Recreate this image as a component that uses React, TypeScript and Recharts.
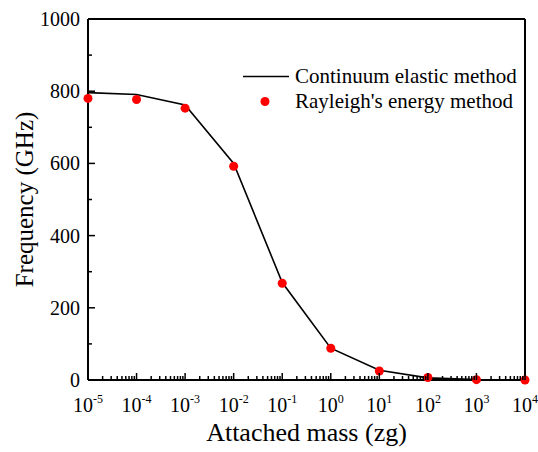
import React from "react";
import {
  ComposedChart,
  Line,
  XAxis,
  YAxis,
  Legend,
  Label,
  ReferenceLine,
} from "recharts";

// attached mass in zg (log axis), one point per decade
const masses = [1e-5, 1e-4, 1e-3, 1e-2, 1e-1, 1e0, 1e1, 1e2, 1e3, 1e4];
// frequency in GHz
const continuumValues = [796, 791, 762, 600, 270, 88, 27, 6, 1, 0];
const rayleighValues = [780, 777, 753, 592, 268, 88, 25, 7, 1, 0];

const xDecades = [-5, -4, -3, -2, -1, 0, 1, 2, 3, 4];
const yTicks = [0, 100, 200, 300, 400, 500, 600, 700, 800, 900, 1000];

const FONT = "Liberation Serif";

const data = masses.map((m, i) => ({
  mass: m,
  continuum: continuumValues[i],
  rayleigh: rayleighValues[i],
}));

// majors at each decade, minors at 2..9
const xTicks: number[] = [];
xDecades.forEach((d, i) => {
  if (i === xDecades.length - 1) {
    xTicks.push(Math.pow(10, d));
    return;
  }
  for (let k = 1; k <= 9; k++) xTicks.push(k * Math.pow(10, d));
});

function isDecade(v: number) {
  const l = Math.log10(v);
  return Math.abs(l - Math.round(l)) < 1e-9;
}

function XTick({ x, y, payload }: any) {
  const v = payload.value;
  const major = isDecade(v);
  const exp = Math.round(Math.log10(v));
  return (
    <g>
      <line x1={x} x2={x} y1={y} y2={y - (major ? 7 : 4)} stroke="#000" strokeWidth={1.5} />
      {major && (
        <text x={x} y={y + 32} textAnchor="middle" style={{ fontFamily: FONT, fontSize: 20 }} fill="#000">
          10
          <tspan style={{ fontSize: 12 }} dy={-9}>
            {exp}
          </tspan>
        </text>
      )}
    </g>
  );
}

function YTick({ x, y, payload }: any) {
  const v = payload.value;
  const major = v % 200 === 0;
  return (
    <g>
      <line x1={x} x2={x + (major ? 7 : 4)} y1={y} y2={y} stroke="#000" strokeWidth={1.5} />
      {major && (
        <text x={x - 8} y={y} dy="0.35em" textAnchor="end" style={{ fontFamily: FONT, fontSize: 20 }} fill="#000">
          {v}
        </text>
      )}
    </g>
  );
}

function LegendBox() {
  const row: React.CSSProperties = {
    display: "flex",
    alignItems: "center",
    height: 25,
    lineHeight: "25px",
    fontFamily: FONT,
    fontSize: 21,
    color: "#000",
    whiteSpace: "nowrap",
  };
  return (
    <div>
      <div style={row}>
        <svg width={46} height={25} style={{ marginRight: 6 }}>
          <line x1={0} x2={46} y1={12.5} y2={12.5} stroke="#000" strokeWidth={1.6} />
        </svg>
        <span>Continuum elastic method</span>
      </div>
      <div style={row}>
        <svg width={46} height={25} style={{ marginRight: 6 }}>
          <circle cx={22} cy={12.5} r={4.5} fill="#ff0000" />
        </svg>
        <span>Rayleigh's energy method</span>
      </div>
    </div>
  );
}

export default function App() {
  return (
    <div style={{ position: "absolute", left: 0, top: 0, background: "#fff", fontFamily: FONT }}>
      <ComposedChart
        width={538}
        height={452}
        data={data}
        margin={{ top: 19, right: 13, bottom: 0, left: 0 }}
        style={{ fontFamily: FONT }}
      >
        <XAxis
          dataKey="mass"
          type="number"
          scale="log"
          domain={[1e-5, 1e4]}
          ticks={xTicks}
          interval={0}
          height={72}
          tickSize={0}
          tickMargin={0}
          tickLine={false}
          tick={<XTick />}
          axisLine={{ stroke: "#000", strokeWidth: 2 }}
        >
          <Label
            content={({ viewBox }: any) => (
              <text
                x={viewBox.x + viewBox.width / 2}
                y={viewBox.y + 61}
                textAnchor="middle"
                style={{ fontFamily: FONT, fontSize: 26 }}
                fill="#000"
              >
                Attached mass (zg)
              </text>
            )}
          />
        </XAxis>
        <YAxis
          type="number"
          domain={[0, 1000]}
          ticks={yTicks}
          interval={0}
          width={88}
          tickSize={0}
          tickMargin={0}
          tickLine={false}
          tick={<YTick />}
          axisLine={{ stroke: "#000", strokeWidth: 2 }}
        >
          <Label
            content={({ viewBox }: any) => {
              const cx = 24;
              const cy = viewBox.y + viewBox.height / 2;
              return (
                <text
                  x={cx}
                  y={cy}
                  dy="0.35em"
                  textAnchor="middle"
                  transform={`rotate(-90, ${cx}, ${cy})`}
                  style={{ fontFamily: FONT, fontSize: 25 }}
                  fill="#000"
                >
                  Frequency (GHz)
                </text>
              );
            }}
          />
        </YAxis>
        <ReferenceLine y={1000} stroke="#000" strokeWidth={2} />
        <ReferenceLine x={1e4} stroke="#000" strokeWidth={2} />
        <Legend
          layout="horizontal"
          align="center"
          verticalAlign="middle"
          content={<LegendBox />}
          wrapperStyle={{ top: 64, left: 243, width: 290, height: 50 }}
        />
        <Line
          dataKey="continuum"
          stroke="#000"
          strokeWidth={1.6}
          dot={false}
          activeDot={false}
          isAnimationActive={false}
        />
        <Line
          dataKey="rayleigh"
          stroke="none"
          dot={{ r: 4.5, fill: "#ff0000", stroke: "none" }}
          activeDot={false}
          isAnimationActive={false}
        />
      </ComposedChart>
    </div>
  );
}
